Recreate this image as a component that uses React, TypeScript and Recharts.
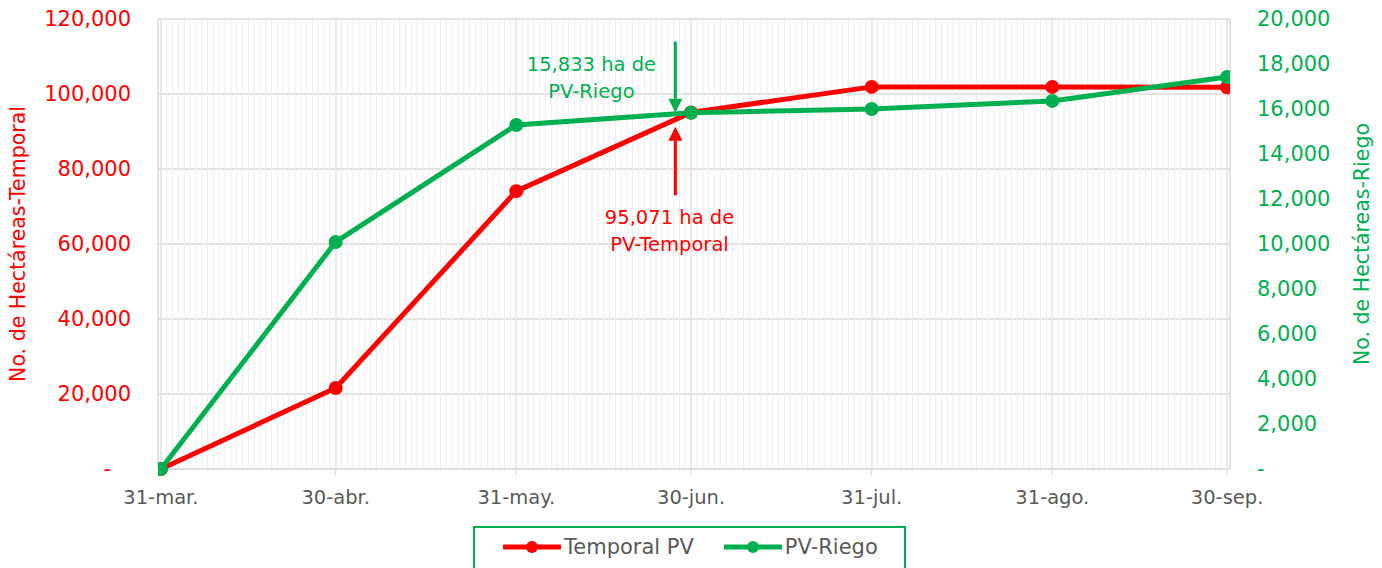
import { CartesianGrid, ComposedChart, Line, ReferenceDot, ReferenceLine, XAxis, YAxis } from "recharts";

const dateLabels = ["31-mar.", "30-abr.", "31-may.", "30-jun.", "31-jul.", "31-ago.", "30-sep."];
const dayOffsets = [0, 30, 61, 91, 122, 153, 183];
const temporalPV = [0, 21600, 74100, 95071, 101900, 101900, 101800];
const riegoPV = [0, 10090, 15290, 15833, 16000, 16360, 17420];

const leftTicks = [0, 20000, 40000, 60000, 80000, 100000, 120000];
const rightTicks = [0, 2000, 4000, 6000, 8000, 10000, 12000, 14000, 16000, 18000, 20000];

// one light grid line per day between the first and last date
const minorDays = Array.from({ length: 184 }, (_, i) => i);

const riegoNote = ["15,833 ha de", "PV-Riego"];
const temporalNote = ["95,071 ha de", "PV-Temporal"];

const RED = "#ff0000";
const GREEN = "#00b050";
const GRAY = "#595959";
const FONT = "'DejaVu Sans', sans-serif";

const rows = dayOffsets.map((day, i) => ({
  day,
  label: dateLabels[i],
  temporal: temporalPV[i],
  riego: riegoPV[i],
}));

function fmt(v: number, pad: string) {
  if (v === 0) return "-" + pad;
  return v.toLocaleString("en-US");
}

function arrow(color: string) {
  return (props: any) => {
    const { x1, y1, x2, y2 } = props;
    const len = Math.hypot(x2 - x1, y2 - y1) || 1;
    const ux = (x2 - x1) / len;
    const uy = (y2 - y1) / len;
    const head = 14;
    const half = 7;
    const bx = x2 - ux * head;
    const by = y2 - uy * head;
    return (
      <g>
        <line x1={x1} y1={y1} x2={bx} y2={by} stroke={color} strokeWidth={3} />
        <polygon
          points={`${x2},${y2} ${bx - uy * half},${by + ux * half} ${bx + uy * half},${by - ux * half}`}
          fill={color}
        />
      </g>
    );
  };
}

function note(lines: string[], color: string) {
  return (props: any) => {
    const vb = props.viewBox || {};
    const cx = vb.x + (vb.width || 0) / 2;
    const cy = vb.y + (vb.height || 0) / 2;
    return (
      <text x={cx} y={cy} textAnchor="middle" fill={color} fontFamily={FONT} fontSize={19.5}>
        <tspan x={cx} y={cy - 13} dominantBaseline="central">{lines[0]}</tspan>
        <tspan x={cx} y={cy + 14} dominantBaseline="central">{lines[1]}</tspan>
      </text>
    );
  };
}

function axisTitle(text: string, color: string, side: "left" | "right") {
  return (props: any) => {
    const vb = props.viewBox || {};
    const cx = side === "left" ? vb.x + 18 : vb.x + vb.width - 20;
    const cy = vb.y + vb.height / 2;
    return (
      <text
        x={cx}
        y={cy}
        transform={`rotate(-90 ${cx} ${cy})`}
        textAnchor="middle"
        dominantBaseline="central"
        fill={color}
        fontFamily={FONT}
        fontSize={20.5}
      >
        {text}
      </text>
    );
  };
}

function LegendItem({ color, text }: { color: string; text: string }) {
  return (
    <div style={{ display: "flex", alignItems: "center", height: 30 }}>
      <svg width={58} height={16}>
        <line x1={1} y1={8} x2={57} y2={8} stroke={color} strokeWidth={5} strokeLinecap="round" />
        <circle cx={29} cy={8} r={6} fill={color} />
      </svg>
      <span style={{ marginLeft: 3, color: GRAY, fontFamily: FONT, fontSize: 21, lineHeight: "30px" }}>{text}</span>
    </div>
  );
}

export default function App() {
  return (
    <div style={{ position: "absolute", left: 0, top: 0, width: 1382, height: 568, background: "#fff" }}>
      <ComposedChart width={1382} height={568} data={rows} margin={{ top: 19, right: 0, bottom: 0, left: 0 }}>
        {minorDays.map((d) => (
          <ReferenceLine key={d} x={d} yAxisId="left" stroke="#ededed" strokeWidth={1} />
        ))}
        <CartesianGrid yAxisId="left" stroke="#d9d9d9" strokeWidth={1.5} />
        <XAxis
          dataKey="day"
          type="number"
          domain={[-0.5, 183.5]}
          allowDataOverflow
          ticks={dayOffsets}
          tickFormatter={(v: number) => dateLabels[dayOffsets.indexOf(v)] ?? ""}
          height={99}
          stroke="#d9d9d9"
          tickSize={7}
          tickMargin={14}
          tick={{ fill: GRAY, fontFamily: FONT, fontSize: 19.5 }}
        />
        <YAxis
          yAxisId="left"
          orientation="left"
          width={158}
          domain={[0, 120000]}
          ticks={leftTicks}
          tickFormatter={(v: number) => fmt(v, "\u00a0\u00a0\u00a0")}
          axisLine={false}
          tickLine={false}
          tickSize={0}
          tickMargin={27}
          tick={{ fill: RED, fontFamily: FONT, fontSize: 21 }}
          label={{ value: "No. de Hectáreas-Temporal", content: axisTitle("No. de Hectáreas-Temporal", RED, "left") }}
        />
        <YAxis
          yAxisId="right"
          orientation="right"
          width={152}
          domain={[0, 20000]}
          ticks={rightTicks}
          tickFormatter={(v: number) => fmt(v, "")}
          axisLine={false}
          tickLine={false}
          tickSize={0}
          tickMargin={27}
          tick={{ fill: GREEN, fontFamily: FONT, fontSize: 21 }}
          label={{ value: "No. de Hectáreas-Riego", content: axisTitle("No. de Hectáreas-Riego", GREEN, "right") }}
        />
        <Line
          yAxisId="left"
          dataKey="temporal"
          stroke={RED}
          strokeWidth={5}
          dot={{ r: 7, fill: RED, stroke: RED, strokeWidth: 0 }}
          activeDot={false}
          isAnimationActive={false}
        />
        <Line
          yAxisId="right"
          dataKey="riego"
          stroke={GREEN}
          strokeWidth={5}
          dot={{ r: 7, fill: GREEN, stroke: GREEN, strokeWidth: 0 }}
          activeDot={false}
          isAnimationActive={false}
        />
        <ReferenceLine
          yAxisId="right"
          segment={[
            { x: 88.3, y: 19000 },
            { x: 88.3, y: 15830 },
          ]}
          shape={arrow(GREEN)}
        />
        <ReferenceLine
          yAxisId="left"
          segment={[
            { x: 88.3, y: 73000 },
            { x: 88.3, y: 91300 },
          ]}
          shape={arrow(RED)}
        />
        <ReferenceDot
          yAxisId="right"
          x={73.9}
          y={17380}
          r={0.01}
          fill="none"
          stroke="none"
          label={{ value: riegoNote.join(" "), content: note(riegoNote, GREEN) }}
        />
        <ReferenceDot
          yAxisId="left"
          x={87.3}
          y={63470}
          r={0.01}
          fill="none"
          stroke="none"
          label={{ value: temporalNote.join(" "), content: note(temporalNote, RED) }}
        />
      </ComposedChart>
      <div
        style={{
          position: "absolute",
          left: 473,
          top: 526,
          width: 433,
          height: 52,
          boxSizing: "border-box",
          border: `2px solid ${GREEN}`,
          display: "flex",
          alignItems: "flex-start",
          paddingTop: 4,
          paddingLeft: 28,
          gap: 30,
        }}
      >
        <LegendItem color={RED} text="Temporal PV" />
        <LegendItem color={GREEN} text="PV-Riego" />
      </div>
    </div>
  );
}
